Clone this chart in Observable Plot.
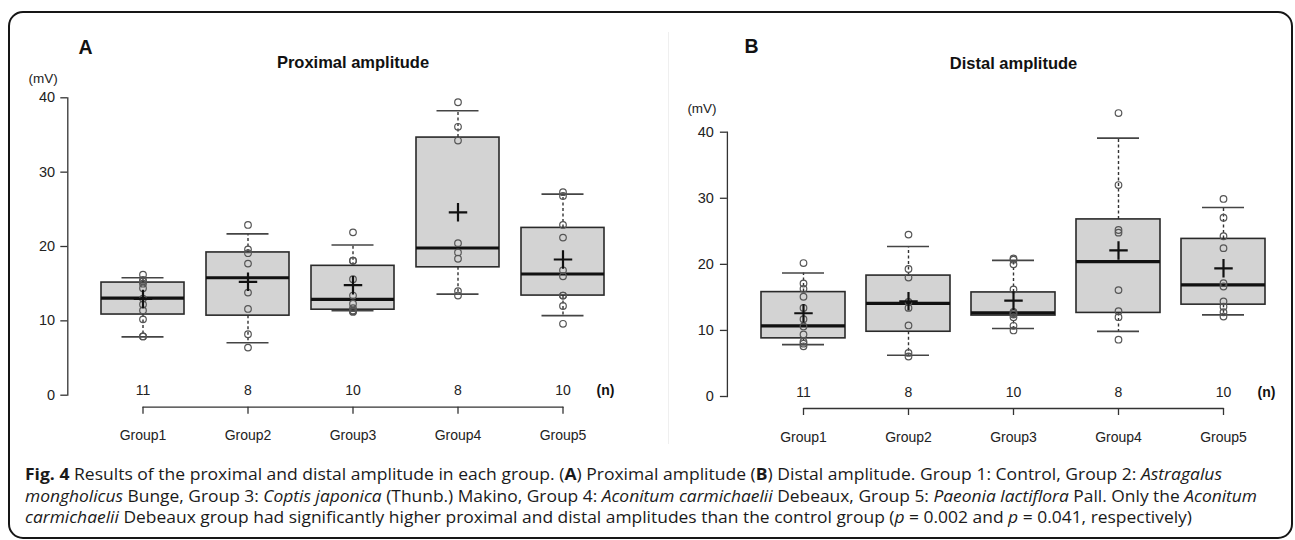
<!DOCTYPE html>
<html>
<head>
<meta charset="utf-8">
<script src="https://cdn.jsdelivr.net/npm/d3@7"></script>
<script src="https://cdn.jsdelivr.net/npm/@observablehq/plot@0.6"></script>
<style>
  html, body { margin: 0; padding: 0; background: #fff; }
  #page { position: relative; width: 1295px; height: 540px; overflow: hidden; background: #fff; }
  #border { position: absolute; left: 8px; top: 10.5px; width: 1284.6px; height: 528px; box-sizing: border-box;
            border: 2px solid #161616; border-radius: 15px; }
  #sep { position: absolute; left: 668px; top: 32px; width: 1px; height: 412px; background: #efefef; }
  .panel { position: absolute; top: 0; }
  #panelA { left: 0; }
  #panelB { left: 640px; }
  .cap { position: absolute; left: 25px; white-space: nowrap; font-family: "Open Sans", "Noto Sans", sans-serif;
         font-size: 15.5px; line-height: 21px; color: #1a1a1a; transform-origin: 0 50%; }
  .cap b { font-weight: 700; }
</style>
</head>
<body>
<div id="page">
  <div id="border"></div>
  <div id="sep"></div>
  <div id="panelA" class="panel"></div>
  <div id="panelB" class="panel"></div>
  <div class="cap" id="cap1"><b>Fig. 4</b> Results of the proximal and distal amplitude in each group. (<b>A</b>) Proximal amplitude (<b>B</b>) Distal amplitude. Group 1: Control, Group 2: <i>Astragalus</i></div>
  <div class="cap" id="cap2"><i>mongholicus</i> Bunge, Group 3: <i>Coptis japonica</i> (Thunb.) Makino, Group 4: <i>Aconitum carmichaelii</i> Debeaux, Group 5: <i>Paeonia lactiflora</i> Pall. Only the <i>Aconitum</i></div>
  <div class="cap" id="cap3"><i>carmichaelii</i> Debeaux group had significantly higher proximal and distal amplitudes than the control group (<i>p</i> = 0.002 and <i>p</i> = 0.041, respectively)</div>
</div>
<script>
// ---------- Data ----------
const groups = ["Group1", "Group2", "Group3", "Group4", "Group5"];
const nCounts = [11, 8, 10, 8, 10];
const yTicks = [0, 10, 20, 30, 40];

// Panel A: Proximal amplitude (mV)
const proxQ1 = [10.85, 10.7, 11.5, 17.2, 13.4];
const proxMedian = [13.05, 15.8, 12.9, 19.8, 16.3];
const proxQ3 = [15.15, 19.2, 17.4, 34.65, 22.5];
const proxWhiskerLow = [7.85, 7.05, 11.35, 13.6, 10.7];
const proxWhiskerHigh = [15.8, 21.7, 20.2, 38.25, 27.05];
const proxMean = [12.95, 15.25, 14.8, 24.6, 18.25];
const proxPoints = [
  [16.2, 15.5, 15.3, 15.0, 14.4, 13.0, 12.2, 11.4, 10.2, 7.9, 7.9],
  [22.9, 19.6, 19.1, 17.7, 13.8, 11.6, 8.2, 6.4],
  [21.9, 18.1, 18.1, 15.6, 13.4, 12.3, 11.7, 11.4, 11.3, 11.2],
  [39.4, 36.1, 34.25, 20.45, 19.2, 18.35, 14.0, 13.4],
  [27.3, 26.8, 22.9, 21.2, 16.8, 16.0, 13.4, 13.4, 12.0, 9.6]
];

// Panel B: Distal amplitude (mV)
const distQ1 = [8.8, 9.8, 12.25, 12.65, 13.9];
const distMedian = [10.7, 14.1, 12.65, 20.4, 16.9];
const distQ3 = [15.8, 18.3, 15.75, 26.8, 23.85];
const distWhiskerLow = [7.85, 6.25, 10.3, 9.85, 12.35];
const distWhiskerHigh = [18.7, 22.7, 20.6, 39.1, 28.6];
const distMean = [12.6, 14.4, 14.5, 22.1, 19.4];
const distPoints = [
  [20.2, 17.1, 16.3, 15.1, 13.4, 11.7, 10.6, 9.4, 8.3, 8.0, 7.6],
  [24.5, 19.3, 18.0, 14.3, 13.4, 10.75, 6.6, 6.05],
  [20.9, 20.7, 20.0, 16.2, 12.8, 12.6, 12.4, 12.0, 10.7, 10.0],
  [42.9, 32.0, 25.2, 24.8, 16.1, 12.9, 12.0, 8.6],
  [29.9, 27.05, 24.25, 22.45, 17.15, 16.65, 14.4, 13.6, 12.75, 12.1]
];

// ---------- Build ----------
function statsTable(q1, med, q3, lo, hi, mean) {
  return groups.map((g, i) => ({group: g, q1: q1[i], median: med[i], q3: q3[i], lo: lo[i], hi: hi[i], mean: mean[i], n: String(nCounts[i])}));
}
function pointTable(pts) {
  return pts.flatMap((arr, i) => arr.map(v => ({group: groups[i], value: v})));
}

const FONT = "'Liberation Sans', Arial, Helvetica, sans-serif";

function panel(cfg) {
  const stats = cfg.stats, pts = cfg.points;
  const capInset = cfg.capInset;
  return Plot.plot({
    width: 640,
    height: 450,
    marginLeft: cfg.mL,
    marginTop: cfg.mT,
    marginBottom: cfg.mB,
    marginRight: cfg.mR,
    style: {fontFamily: FONT, background: "transparent", overflow: "visible", color: "#222"},
    x: {type: "band", domain: groups, range: cfg.xRange, paddingInner: cfg.pIn, paddingOuter: cfg.pIn / 2, axis: null},
    y: {domain: [0, 40], axis: null},
    marks: [
      Plot.frame({anchor: "left", stroke: "#333", strokeWidth: 1.3}),
      Plot.axisY({ticks: yTicks, tickSize: 7, tickPadding: cfg.tickPad, fontSize: 14.5, stroke: "#333", strokeWidth: 1.3, label: null}),
      // whiskers
      Plot.ruleX(stats, {x: "group", y1: "q3", y2: "hi", stroke: "#333", strokeWidth: 1.4, strokeDasharray: "3,2.5"}),
      Plot.ruleX(stats, {x: "group", y1: "q1", y2: "lo", stroke: "#333", strokeWidth: 1.4, strokeDasharray: "3,2.5"}),
      Plot.tickY(stats, {x: "group", y: "hi", insetLeft: capInset, insetRight: capInset, stroke: "#444", strokeWidth: 1.6}),
      Plot.tickY(stats, {x: "group", y: "lo", insetLeft: capInset, insetRight: capInset, stroke: "#444", strokeWidth: 1.6}),
      // boxes
      Plot.barY(stats, {x: "group", y1: "q1", y2: "q3", fill: "#d3d3d3", stroke: "#2a2a2a", strokeWidth: 1.6}),
      Plot.tickY(stats, {x: "group", y: "median", stroke: "#111", strokeWidth: 3.2}),
      // points
      Plot.dot(pts, {x: "group", y: "value", r: 3.3, stroke: "#555", strokeWidth: 1.2, fill: "none"}),
      // means
      Plot.dot(stats, {x: "group", y: "mean", symbol: "plus", r: 6, stroke: "#111", strokeWidth: 2.2}),
      // n labels
      Plot.text(stats, {x: "group", text: "n", frameAnchor: "bottom", fontSize: 14, fill: "#222"}),
      Plot.text(["(n)"], {frameAnchor: "bottom-right", textAnchor: "end", text: d => d, fontSize: 14, fontWeight: "bold", fill: "#111"}),
      // bracket axis
      Plot.lineY(stats, {x: "group", y: () => 0, dy: cfg.bracketDy, stroke: "#333", strokeWidth: 1.3}),
      Plot.axisX({tickSize: 7, tickPadding: cfg.xPad, dy: cfg.bracketDy, fontSize: 14, stroke: "#333", strokeWidth: 1.3, label: null}),
      // titles
      Plot.text([cfg.letter], {frameAnchor: "top-left", text: d => d, textAnchor: "start", dx: cfg.letterDx, dy: cfg.letterDy, fontSize: 19.5, fontWeight: "bold", fill: "#111"}),
      Plot.text([cfg.title], {frameAnchor: "top-left", text: d => d, textAnchor: "middle", dx: cfg.titleDx, dy: cfg.titleDy, fontSize: 16.5, fontWeight: "bold", fill: "#111"}),
      Plot.text(["(mV)"], {frameAnchor: "top-left", text: d => d, textAnchor: "middle", dx: cfg.unitDx, dy: cfg.unitDy, fontSize: 13.5, fill: "#222"})
    ]
  });
}

const plotA = panel({
  stats: statsTable(proxQ1, proxMedian, proxQ3, proxWhiskerLow, proxWhiskerHigh, proxMean),
  points: pointTable(proxPoints),
  mL: 67.3, mT: 97.3, mB: 55.3, mR: 26,
  xRange: [88.7, 615.8], pIn: 0.2127, capInset: 20.5, tickPad: 5.6,
  bracketDy: 12, xPad: 16,
  letter: "A", letterDx: 10.6, letterDy: -57.3,
  title: "Proximal amplitude", titleDx: 285.2, titleDy: -41.3,
  unitDx: -24.6, unitDy: -24.3
});
const plotB = panel({
  stats: statsTable(distQ1, distMedian, distQ3, distWhiskerLow, distWhiskerHigh, distMean),
  points: pointTable(distPoints),
  mL: 86.9, mT: 131.7, mB: 54, mR: 5,
  xRange: [108.4, 636.3], pIn: 0.2044, capInset: 21, tickPad: 6.5,
  bracketDy: 12, xPad: 16.5,
  letter: "B", letterDx: 17.1, letterDy: -92.7,
  title: "Distal amplitude", titleDx: 286.1, titleDy: -75,
  unitDx: -25.4, unitDy: -29.2
});
document.getElementById("panelA").appendChild(plotA);
document.getElementById("panelB").appendChild(plotB);

// caption layout: fit each line to its width in the figure
const capLines = [
  {id: "cap1", top: 464, width: 1197},
  {id: "cap2", top: 485.5, width: 1232},
  {id: "cap3", top: 507, width: 1167}
];
capLines.forEach(c => {
  const el = document.getElementById(c.id);
  el.style.top = c.top + "px";
  const w = el.getBoundingClientRect().width;
  el.style.transform = `scaleX(${c.width / w})`;
});
</script>
</body>
</html>
